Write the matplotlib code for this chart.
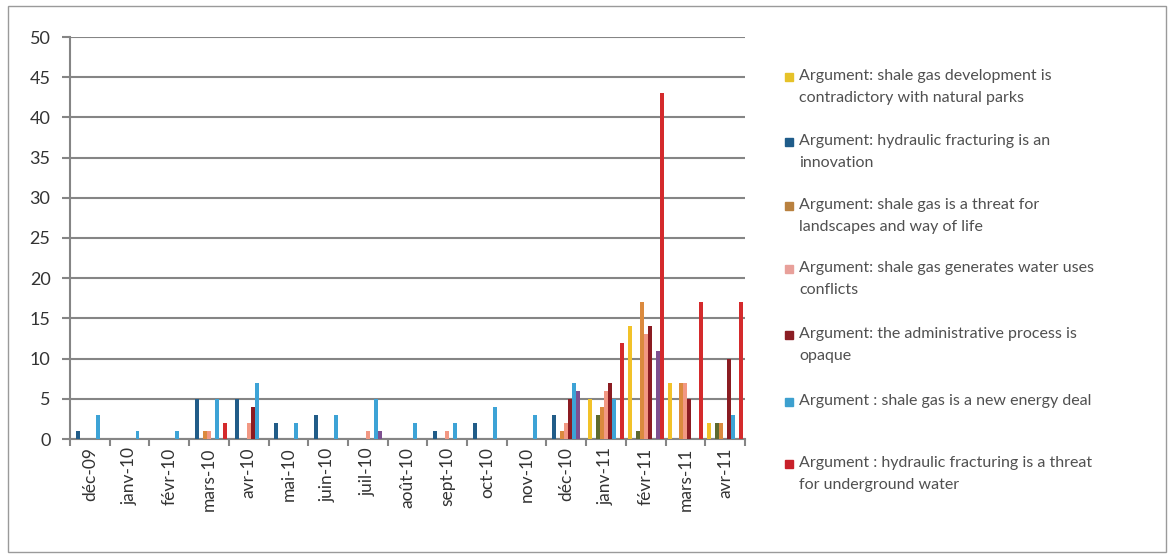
import numpy as np
import matplotlib
matplotlib.use('Agg')
import matplotlib.pyplot as plt
from matplotlib.patches import Rectangle

plt.rcParams['font.family'] = ['Lato', 'DejaVu Sans']

# données
months = ['déc-09', 'janv-10', 'févr-10', 'mars-10', 'avr-10', 'mai-10', 'juin-10',
          'juil-10', 'août-10', 'sept-10', 'oct-10', 'nov-10', 'déc-10', 'janv-11',
          'févr-11', 'mars-11', 'avr-11']

natural_parks = [0, 0, 0, 0, 0, 0, 0, 0, 0, 0, 0, 0, 0, 5, 14, 7, 2]
innovation = [1, 0, 0, 5, 5, 2, 3, 0, 0, 1, 2, 0, 3, 0, 0, 0, 0]
other_olive = [0, 0, 0, 0, 0, 0, 0, 0, 0, 0, 0, 0, 0, 3, 1, 0, 2]
landscapes = [0, 0, 0, 1, 0, 0, 0, 0, 0, 0, 0, 0, 1, 4, 17, 7, 2]
water_conflicts = [0, 0, 0, 1, 2, 0, 0, 1, 0, 1, 0, 0, 2, 6, 13, 7, 0]
administrative = [0, 0, 0, 0, 4, 0, 0, 0, 0, 0, 0, 0, 5, 7, 14, 5, 10]
energy_deal = [3, 1, 1, 5, 7, 2, 3, 5, 2, 2, 4, 3, 7, 5, 0, 0, 3]
other_purple = [0, 0, 0, 0, 0, 0, 0, 1, 0, 0, 0, 0, 6, 0, 11, 0, 0]
underground_water = [0, 0, 0, 2, 0, 0, 0, 0, 0, 0, 0, 0, 0, 12, 43, 17, 17]

labels = ['Argument: shale gas development is\ncontradictory with natural parks',
          'Argument: hydraulic fracturing is an\ninnovation',
          'Argument: shale gas is a threat for\nlandscapes and way of life',
          'Argument: shale gas generates water uses\nconflicts',
          'Argument: the administrative process is\nopaque',
          'Argument : shale gas is a new energy deal',
          'Argument : hydraulic fracturing is a threat\nfor underground water']

series = [natural_parks, innovation, other_olive, landscapes, water_conflicts,
          administrative, energy_deal, other_purple, underground_water]
colors = ['#F2C229', '#215C88', '#5E6A2E', '#DB8A3E', '#F29883',
          '#8B1C22', '#3DA3D6', '#7E5090', '#D42A2C']
legend_colors = ['#E6C229', '#1F5C8A', '#B9813F', '#E8A09A', '#8B1E24', '#3DA0CF', '#C8202A']

fig = plt.figure(figsize=(11.7, 5.54), dpi=100)
ax = fig.add_axes([70 / 1170, 1 - 439 / 554, 675 / 1170, 402 / 554])

x = np.arange(len(months))
step = 0.1
for i, (vals, c) in enumerate(zip(series, colors)):
    ax.bar(x + (i - 4) * step, vals, width=0.1, color=c, zorder=3)

ax.set_xlim(-0.5, len(months) - 0.5)
ax.set_ylim(0, 50)
ax.set_yticks(range(0, 51, 5))
ax.yaxis.grid(True, color='#858585', linewidth=1.5, zorder=0)
ax.set_xticks(x)
ax.set_xticklabels(months, rotation=90, fontsize=12.5, color='#333333')
ax.set_xticks(np.arange(-0.5, len(months), 1), minor=True)
ax.tick_params(axis='x', which='major', length=0, pad=6)
ax.tick_params(axis='x', which='minor', length=5, color='#858585', width=1.5)
ax.tick_params(axis='y', length=6, color='#858585', width=1.5, labelsize=13,
               labelcolor='#333333', pad=8)
for s in ['top', 'right']:
    ax.spines[s].set_visible(False)
for s in ['left', 'bottom']:
    ax.spines[s].set_color('#858585')
    ax.spines[s].set_linewidth(1.5)

# légende
ys = [76, 141, 205, 268, 334, 401, 463]
for yy, lab, c in zip(ys, labels, legend_colors):
    fig.patches.append(Rectangle((785 / 1170, 1 - (yy + 5) / 554), 8 / 1170, 8 / 554,
                                 transform=fig.transFigure, color=c))
    fig.text(799 / 1170, 1 - (yy - 7) / 554, lab, fontsize=11.5, color='#505050',
             va='top', ha='left', linespacing=1.7)

# cadre
fig.patches.append(Rectangle((8 / 1170, 2 / 554), 1158 / 1170, 546 / 554,
                             transform=fig.transFigure, fill=False,
                             edgecolor='#9A9A9A', linewidth=1))

fig.savefig('out.png', dpi=100)
